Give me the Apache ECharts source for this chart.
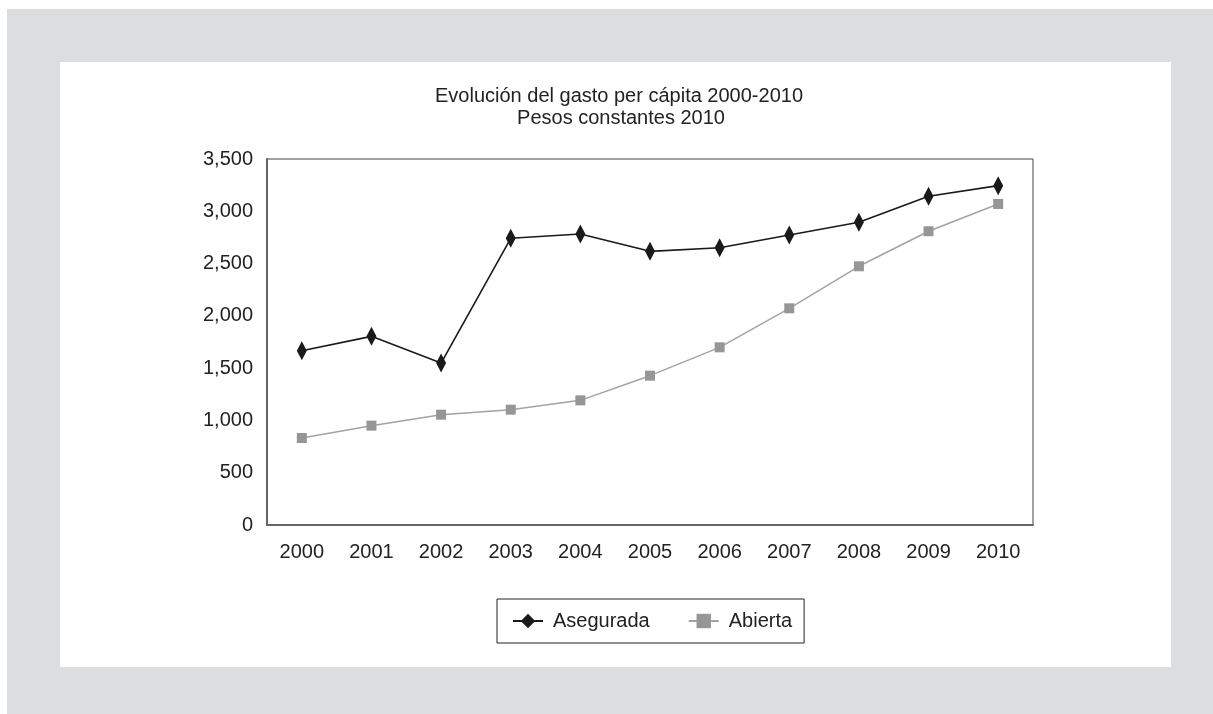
<!DOCTYPE html>
<html>
<head>
<meta charset="utf-8">
<script src="https://cdn.jsdelivr.net/npm/echarts@6/dist/echarts.min.js"></script>
<style>
html,body{margin:0;padding:0;background:#fff;}
#c{width:1213px;height:714px;}
</style>
</head>
<body>
<div id="c"></div>
<script>
const years = ['2000','2001','2002','2003','2004','2005','2006','2007','2008','2009','2010'];
const asegurada = [1667, 1804, 1549, 2742, 2783, 2617, 2652, 2773, 2895, 3143, 3245];
const abierta = [832, 950, 1055, 1103, 1192, 1428, 1699, 2072, 2474, 2809, 3070];
const titleLines = ['Evolución del gasto per cápita 2000-2010', 'Pesos constantes 2010'];

const chart = echarts.init(document.getElementById('c'), null, {renderer: 'canvas'});
const font = 'Liberation Sans, Arial, Helvetica, sans-serif';
chart.setOption({
  animation: false,
  backgroundColor: '#fff',
  graphic: [
    {type: 'rect', z: -10, shape: {x: 7, y: 9, width: 1206, height: 705}, style: {fill: '#dcdddf'}},
    {type: 'rect', z: -9, shape: {x: 60, y: 62, width: 1111, height: 605}, style: {fill: '#ffffff'}},
    {type: 'text', z: 10, style: {text: titleLines[0], x: 619, y: 96, textAlign: 'center', textVerticalAlign: 'middle', font: '20px ' + font, fill: '#222'}},
    {type: 'text', z: 10, style: {text: titleLines[1], x: 621, y: 118, textAlign: 'center', textVerticalAlign: 'middle', font: '20px ' + font, fill: '#222'}}
  ],
  grid: {left: 267, right: 1213 - 1033, top: 159, bottom: 714 - 525, show: true, borderColor: '#444', borderWidth: 1, containLabel: false},
  legend: {
    data: ['Asegurada', 'Abierta'],
    left: 497, top: 599,
    orient: 'horizontal',
    borderColor: '#222', borderWidth: 1,
    padding: [12, 12, 12, 15],
    itemGap: 38,
    itemWidth: 30, itemHeight: 18,
    textStyle: {fontSize: 20, fontFamily: font, color: '#222', padding: [0, 0, 0, 5]}
  },
  xAxis: {
    type: 'category', data: years, boundaryGap: true,
    axisLine: {lineStyle: {color: '#666', width: 2}},
    axisTick: {show: false},
    axisLabel: {fontSize: 20, fontFamily: font, color: '#222', margin: 17}
  },
  yAxis: {
    type: 'value', min: 0, max: 3500, interval: 500,
    axisLine: {show: true, lineStyle: {color: '#666', width: 2}},
    axisTick: {show: false},
    splitLine: {show: false},
    axisLabel: {fontSize: 20, fontFamily: font, color: '#222', margin: 14,
      formatter: v => v.toLocaleString('en-US')}
  },
  series: [
    {name: 'Asegurada', type: 'line', data: asegurada,
     symbol: 'path://M5,0 L10,10 L5,20 L0,10 Z', symbolSize: [10, 19],
     lineStyle: {color: '#1a1a1a', width: 1.6}, itemStyle: {color: '#1a1a1a'}},
    {name: 'Abierta', type: 'line', data: abierta,
     symbol: 'rect', symbolSize: 10,
     lineStyle: {color: '#a3a3a3', width: 1.5}, itemStyle: {color: '#95969a'}}
  ]
});
</script>
</body>
</html>
